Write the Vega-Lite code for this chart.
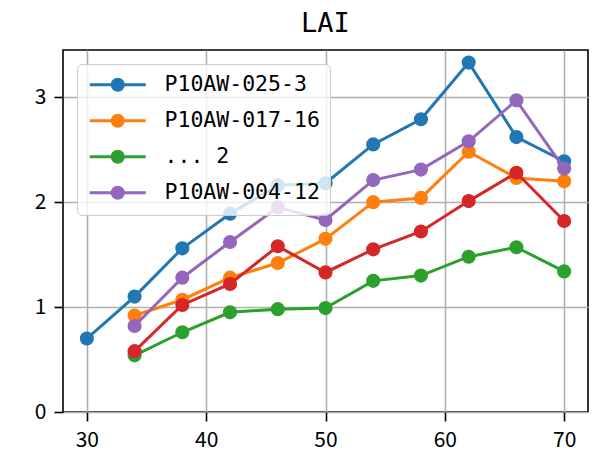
{
  "$schema": "https://vega.github.io/schema/vega-lite/v6.json",
  "width": 525,
  "height": 362,
  "autosize": {"type": "none"},
  "padding": {"left": 63, "top": 50, "right": 8, "bottom": 44},
  "background": "white",
  "title": {"text": "LAI", "fontSize": 27, "font": "DejaVu Sans Mono", "fontWeight": "normal", "color": "black", "offset": 12},
  "data": {"values": [
    {"day": 30, "LAI": 0.70, "series": "P10AW-025-3"},
    {"day": 34, "LAI": 1.10, "series": "P10AW-025-3"},
    {"day": 38, "LAI": 1.56, "series": "P10AW-025-3"},
    {"day": 42, "LAI": 1.89, "series": "P10AW-025-3"},
    {"day": 46, "LAI": 2.16, "series": "P10AW-025-3"},
    {"day": 50, "LAI": 2.18, "series": "P10AW-025-3"},
    {"day": 54, "LAI": 2.55, "series": "P10AW-025-3"},
    {"day": 58, "LAI": 2.79, "series": "P10AW-025-3"},
    {"day": 62, "LAI": 3.33, "series": "P10AW-025-3"},
    {"day": 66, "LAI": 2.62, "series": "P10AW-025-3"},
    {"day": 70, "LAI": 2.39, "series": "P10AW-025-3"},
    {"day": 34, "LAI": 0.92, "series": "P10AW-017-16"},
    {"day": 38, "LAI": 1.07, "series": "P10AW-017-16"},
    {"day": 42, "LAI": 1.28, "series": "P10AW-017-16"},
    {"day": 46, "LAI": 1.42, "series": "P10AW-017-16"},
    {"day": 50, "LAI": 1.65, "series": "P10AW-017-16"},
    {"day": 54, "LAI": 2.00, "series": "P10AW-017-16"},
    {"day": 58, "LAI": 2.04, "series": "P10AW-017-16"},
    {"day": 62, "LAI": 2.48, "series": "P10AW-017-16"},
    {"day": 66, "LAI": 2.23, "series": "P10AW-017-16"},
    {"day": 70, "LAI": 2.20, "series": "P10AW-017-16"},
    {"day": 34, "LAI": 0.54, "series": "... 2"},
    {"day": 38, "LAI": 0.76, "series": "... 2"},
    {"day": 42, "LAI": 0.95, "series": "... 2"},
    {"day": 46, "LAI": 0.98, "series": "... 2"},
    {"day": 50, "LAI": 0.99, "series": "... 2"},
    {"day": 54, "LAI": 1.25, "series": "... 2"},
    {"day": 58, "LAI": 1.30, "series": "... 2"},
    {"day": 62, "LAI": 1.48, "series": "... 2"},
    {"day": 66, "LAI": 1.57, "series": "... 2"},
    {"day": 70, "LAI": 1.34, "series": "... 2"},
    {"day": 34, "LAI": 0.58, "series": "unlabelled"},
    {"day": 38, "LAI": 1.02, "series": "unlabelled"},
    {"day": 42, "LAI": 1.22, "series": "unlabelled"},
    {"day": 46, "LAI": 1.58, "series": "unlabelled"},
    {"day": 50, "LAI": 1.33, "series": "unlabelled"},
    {"day": 54, "LAI": 1.55, "series": "unlabelled"},
    {"day": 58, "LAI": 1.72, "series": "unlabelled"},
    {"day": 62, "LAI": 2.01, "series": "unlabelled"},
    {"day": 66, "LAI": 2.28, "series": "unlabelled"},
    {"day": 70, "LAI": 1.82, "series": "unlabelled"},
    {"day": 34, "LAI": 0.82, "series": "P10AW-004-12"},
    {"day": 38, "LAI": 1.28, "series": "P10AW-004-12"},
    {"day": 42, "LAI": 1.62, "series": "P10AW-004-12"},
    {"day": 46, "LAI": 1.95, "series": "P10AW-004-12"},
    {"day": 50, "LAI": 1.83, "series": "P10AW-004-12"},
    {"day": 54, "LAI": 2.21, "series": "P10AW-004-12"},
    {"day": 58, "LAI": 2.31, "series": "P10AW-004-12"},
    {"day": 62, "LAI": 2.58, "series": "P10AW-004-12"},
    {"day": 66, "LAI": 2.97, "series": "P10AW-004-12"},
    {"day": 70, "LAI": 2.32, "series": "P10AW-004-12"}
  ]},
  "encoding": {
    "x": {"field": "day", "type": "quantitative", "scale": {"domain": [28, 72], "nice": false, "zero": false},
          "axis": {"values": [30, 40, 50, 60, 70], "title": null}},
    "y": {"field": "LAI", "type": "quantitative", "scale": {"domain": [0, 3.45], "nice": false},
          "axis": {"values": [0, 1, 2, 3], "title": null}},
    "color": {"field": "series", "type": "nominal",
      "scale": {"domain": ["P10AW-025-3", "P10AW-017-16", "... 2", "unlabelled", "P10AW-004-12"],
                "range": ["#1f77b4", "#ff7f0e", "#2ca02c", "#d62728", "#9467bd"]},
      "legend": {
        "orient": "none", "legendX": 14, "legendY": 14, "title": null,
        "values": ["P10AW-025-3", "P10AW-017-16", "... 2", "P10AW-004-12"],
        "symbolType": "M-4,0H4M-0.8,0A0.8,0.8 0 1,0 0.8,0A0.8,0.8 0 1,0 -0.8,0Z",
        "symbolSize": 196, "symbolStrokeWidth": 3, "symbolOffset": 20, "labelOffset": 36,
        "labelFont": "DejaVu Sans Mono", "labelFontSize": 21.5, "labelColor": "black", "labelLimit": 400,
        "fillColor": "rgba(255,255,255,0.8)", "strokeColor": "#cccccc", "cornerRadius": 5, "padding": 10, "rowPadding": 12,
        "encode": {"symbols": {"update": {"fill": {"scale": "color", "field": "value"}, "stroke": {"scale": "color", "field": "value"}, "opacity": {"value": 1}}}}
      }
    }
  },
  "layer": [
    {"transform": [{"filter": "datum.series === 'P10AW-025-3'"}], "mark": {"type": "line", "strokeWidth": 3, "point": {"filled": true, "size": 200, "opacity": 1}}},
    {"transform": [{"filter": "datum.series === 'P10AW-017-16'"}], "mark": {"type": "line", "strokeWidth": 3, "point": {"filled": true, "size": 200, "opacity": 1}}},
    {"transform": [{"filter": "datum.series === '... 2'"}], "mark": {"type": "line", "strokeWidth": 3, "point": {"filled": true, "size": 200, "opacity": 1}}},
    {"transform": [{"filter": "datum.series === 'unlabelled'"}], "mark": {"type": "line", "strokeWidth": 3, "point": {"filled": true, "size": 200, "opacity": 1}}},
    {"transform": [{"filter": "datum.series === 'P10AW-004-12'"}], "mark": {"type": "line", "strokeWidth": 3, "point": {"filled": true, "size": 200, "opacity": 1}}}
  ],
  "config": {
    "view": {"stroke": "black", "strokeWidth": 1.6},
    "axis": {"domain": false, "grid": true, "gridColor": "#b0b0b0", "gridWidth": 1.6, "tickColor": "black", "tickWidth": 1.6, "tickSize": 9,
             "labelFont": "Noto Sans CJK JP", "labelFontSize": 21, "labelColor": "black", "labelPadding": 8}
  }
}
